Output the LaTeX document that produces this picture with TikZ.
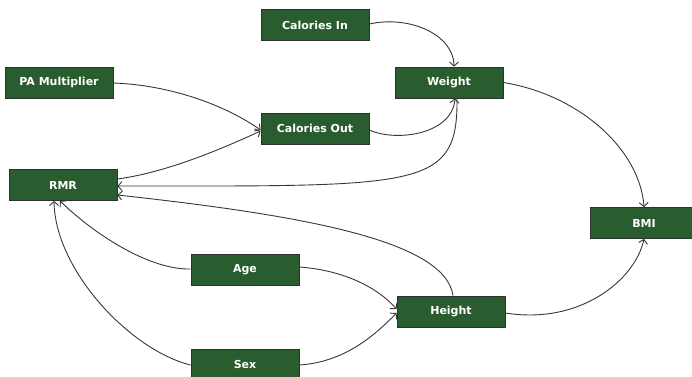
\documentclass[tikz,border=0pt]{standalone}
\usepackage{fontspec}
\setmainfont{DejaVu Sans}
\usetikzlibrary{arrows.meta}
\definecolor{boxgreen}{RGB}{41,92,46}
\definecolor{boxedge}{RGB}{45,50,45}
\definecolor{linegray}{RGB}{55,55,55}
\tikzset{
  varbox/.style={rectangle, fill=boxgreen, draw=boxedge, line width=0.8pt,
    minimum width=108pt, minimum height=31pt, inner sep=0pt,
    text=white, font=\fontsize{11}{13}\selectfont\bfseries},
  link/.style={draw=linegray, line width=0.9pt, -{Straight Barb[length=4pt,width=9pt]}}
}
\begin{document}
\begin{tikzpicture}[x=1pt,y=-1pt]
\useasboundingbox (0,0) rectangle (692,376);
\node[varbox] (cin) at (315,25) {Calories In};
\node[varbox] (w) at (449,82.5) {Weight};
\node[varbox] (pa) at (59,82.5) {PA Multiplier};
\node[varbox] (cout) at (315,128.5) {Calories Out};
\node[varbox] (rmr) at (63,185) {RMR};
\node[varbox] (bmi) at (644,223) {BMI};
\node[varbox] (age) at (245,269.5) {Age};
\node[varbox] (ht) at (451,311.5) {Height};
\node[varbox] (sex) at (245,364.5) {Sex};

\draw[link] (cin.east |- 0,24) .. controls (410,15) and (454,35) .. (w.north -| 454,0);
\draw[link] (cout.east |- 0,130) .. controls (395,142) and (452,135) .. (w.south -| 455,0);
\draw[link] (w.south -| 457,0) .. controls (458,190) and (420,186) .. (rmr.east |- 0,186);
\draw[link] (pa.east |- 0,83) .. controls (170,85) and (225,105) .. (cout.west |- 0,130);
\draw[link] (rmr.east |- 0,179) .. controls (170,172) and (230,145) .. (cout.west |- 0,131);
\draw[link] (ht.north -| 453,0) .. controls (445,240) and (300,215) .. (rmr.east |- 0,195);
\draw[link] (age.west |- 0,269) .. controls (150,270) and (95,235) .. (rmr.south -| 60,0);
\draw[link] (sex.west |- 0,365) .. controls (130,350) and (55,270) .. (rmr.south -| 54,0);
\draw[link] (age.east |- 0,267) .. controls (340,270) and (375,285) .. (ht.west |- 0,309);
\draw[link] (sex.east |- 0,365) .. controls (345,362) and (375,335) .. (ht.west |- 0,313);
\draw[link] (w.east) .. controls (580,95) and (640,150) .. (bmi.north);
\draw[link] (ht.east |- 0,313) .. controls (580,325) and (635,280) .. (bmi.south);
\end{tikzpicture}
\end{document}
